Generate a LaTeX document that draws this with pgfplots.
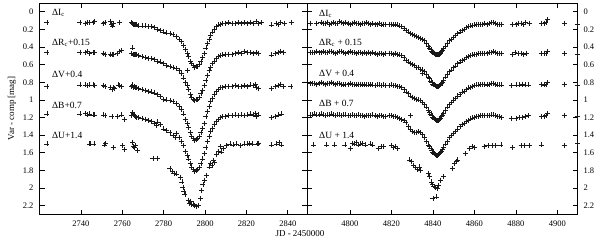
\documentclass[border=0pt]{standalone}
\usepackage{pgfplots}
\pgfplotsset{compat=1.18}
\usepackage{fontspec}
\setmainfont{Liberation Serif}
\tikzset{lbl/.style={anchor=base west, font=\fontsize{9.5}{11}\selectfont, inner sep=0pt}}
\begin{document}
\begin{tikzpicture}
\useasboundingbox (0pt,0pt) rectangle (600pt,244pt);
\pgfplotsset{
  lc/.style={only marks, mark=+, mark size=2.5pt, mark options={line width=0.65pt}, color=black!90},
  panel/.style={
    scale only axis, height=211.6pt, y dir=reverse, ymin=-0.1, ymax=2.3,
    ytick={0,0.2,0.4,0.6,0.8,1,1.2,1.4,1.6,1.8,2,2.2},
    axis line style={line width=0.8pt}, major tick length=5pt,
    tick style={line width=0.6pt, black}, tick align=inside,
    xtick pos=both, ytick pos=both, xticklabel pos=lower,
    tick label style={font=\fontsize{8.5}{10}\selectfont},
    /pgf/number format/assume math mode=true,
    /pgf/number format/1000 sep={},
    scaled x ticks=false, scaled y ticks=false,
    xticklabel style={yshift=-2.5pt},
  },
}
% ---------------- left panel ----------------
\begin{axis}[panel, at={(173.25pt,135.3pt)}, anchor=center, width=267.5pt,
  xmin=2720, xmax=2849.3, xtick={2740,2760,2780,2800,2820,2840},
  yticklabel pos=left, ytick pos=both, yticklabel style={xshift=-2.5pt}]
% Ic
\addplot[lc] coordinates {
(2723.6,0.12) (2739.5,0.12) (2742.2,0.13) (2743.0,0.12) (2744.0,0.12) (2745.8,0.12) (2746.6,0.11)
(2750.8,0.13) (2751.6,0.12) (2754.2,0.11) (2754.8,0.14) (2755.4,0.16) (2755.9,0.13) (2758.7,0.12)
(2764.6,0.12) (2765.0,0.13) (2765.4,0.14) (2765.8,0.15) (2766.4,0.15) (2767.0,0.14) (2768.0,0.16)
(2769.5,0.16) (2771,0.16) (2772.5,0.17) (2774,0.17) (2775.5,0.18) (2777,0.20) (2778.5,0.21)
(2780,0.23) (2781.5,0.24) (2783,0.25) (2784.5,0.26) (2786,0.28) (2787.5,0.31) (2788.5,0.34)
(2789.5,0.38) (2790.5,0.43) (2791.3,0.47) (2791.4,0.67) (2792.0,0.51) (2792.8,0.56) (2793.5,0.59)
(2794.2,0.61) (2795.0,0.63) (2795.8,0.62) (2796.5,0.62) (2797.3,0.60) (2798.0,0.56) (2798.8,0.52)
(2799.6,0.47) (2800.4,0.41) (2801.2,0.36) (2802.0,0.31) (2802.8,0.27) (2803.6,0.23) (2804.5,0.20)
(2805.5,0.17) (2806.5,0.15) (2807.5,0.14) (2808.5,0.13) (2810,0.13) (2811.5,0.12) (2813,0.13)
(2814.5,0.13) (2816,0.12) (2817.5,0.13) (2819,0.12) (2820.5,0.13) (2822,0.12) (2823.5,0.13)
(2825,0.11) (2826,0.13) (2827.3,0.12) (2832,0.15) (2834.5,0.13) (2835.5,0.14) (2836.5,0.12)
(2838.5,0.13) (2841.8,0.12)
};
% Rc + 0.15
\addplot[lc] coordinates {
(2723.6,0.46) (2739.5,0.46) (2742.2,0.46) (2743.0,0.45) (2744.0,0.47) (2745.8,0.46) (2746.6,0.46)
(2750.8,0.47) (2751.6,0.48) (2754.2,0.48) (2755.0,0.49) (2755.6,0.48) (2757.5,0.47) (2758.7,0.45)
(2759.6,0.44) (2764.6,0.47) (2765.0,0.41) (2765.3,0.48) (2765.8,0.49) (2766.4,0.48) (2767.0,0.49)
(2768.0,0.50) (2769.5,0.51) (2771,0.52) (2772.5,0.53) (2774,0.53) (2775.5,0.54) (2777,0.56)
(2778.5,0.57) (2780,0.59) (2781.5,0.61) (2783,0.62) (2784.5,0.63) (2786,0.64) (2787.5,0.67)
(2788.5,0.70) (2789.5,0.75) (2790.5,0.80) (2791.3,0.84) (2792.0,0.88) (2792.8,0.94) (2793.5,0.97)
(2794.2,0.99) (2795.0,1.01) (2795.8,1.00) (2796.5,0.99) (2797.3,0.97) (2798.0,0.93) (2798.8,0.89)
(2799.6,0.84) (2800.4,0.78) (2801.2,0.72) (2802.0,0.67) (2802.8,0.63) (2803.6,0.59) (2804.5,0.56)
(2805.5,0.53) (2806.5,0.51) (2807.5,0.50) (2808.5,0.49) (2810,0.48) (2811.5,0.48) (2813,0.48)
(2814.5,0.47) (2816,0.46) (2817.5,0.47) (2819,0.45) (2820.5,0.46) (2822,0.46) (2823.5,0.47)
(2825,0.46) (2826,0.47) (2832,0.49) (2834,0.47) (2835.5,0.46) (2836.5,0.45) (2838,0.46)
};
% V + 0.4
\addplot[lc] coordinates {
(2723.6,0.85) (2739.5,0.83) (2742.2,0.83) (2743.0,0.84) (2744.0,0.83) (2745.8,0.83) (2746.6,0.84)
(2750.8,0.84) (2751.6,0.85) (2754.2,0.86) (2755.0,0.88) (2755.6,0.86) (2756.3,0.87) (2758.0,0.83)
(2758.7,0.84) (2759.6,0.85) (2764.6,0.85) (2765.0,0.83) (2765.3,0.86) (2765.8,0.85) (2766.4,0.86)
(2767.0,0.86) (2768.0,0.87) (2769.5,0.88) (2771,0.89) (2772.5,0.90) (2774,0.91) (2775.5,0.92)
(2777,0.94) (2778.5,0.96) (2780,0.99) (2781.5,1.00) (2783,1.01) (2784.5,1.02) (2786,1.04)
(2787.5,1.07) (2788.5,1.11) (2789.5,1.16) (2790.5,1.22) (2791.3,1.27) (2792.0,1.31) (2792.8,1.37)
(2793.5,1.41) (2794.2,1.44) (2795.0,1.46) (2795.8,1.45) (2796.5,1.44) (2797.3,1.41) (2798.0,1.37)
(2798.8,1.32) (2799.6,1.27) (2800.4,1.19) (2801.2,1.13) (2802.0,1.07) (2802.8,1.02) (2803.6,0.98)
(2804.5,0.94) (2805.5,0.90) (2806.5,0.88) (2807.5,0.86) (2808.5,0.86) (2810,0.85) (2811.5,0.85)
(2813,0.85) (2814.5,0.84) (2816,0.85) (2817.5,0.85) (2819,0.84) (2820.5,0.85) (2822,0.83)
(2823.5,0.84) (2824.5,0.82) (2825,0.86) (2826,0.87) (2832,0.87) (2834,0.85) (2835.5,0.84)
(2836.5,0.82) (2838,0.85) (2841.5,0.85)
};
% B + 0.7
\addplot[lc] coordinates {
(2723.6,1.16) (2739.5,1.16) (2742.2,1.15) (2743.0,1.17) (2744.0,1.16) (2745.8,1.17) (2746.6,1.17)
(2750.8,1.17) (2751.6,1.18) (2755.0,1.19) (2757.5,1.19) (2759.6,1.17) (2761.0,1.22) (2764.6,1.18)
(2765.0,1.14) (2765.3,1.17) (2765.8,1.18) (2766.4,1.19) (2767.0,1.20) (2768.0,1.20) (2769.5,1.21)
(2771,1.22) (2772.5,1.23) (2774,1.24) (2775.5,1.27) (2776.5,1.29) (2777,1.25) (2778.5,1.28)
(2780,1.33) (2781.5,1.35) (2783,1.37) (2784.5,1.40) (2785.5,1.43) (2786,1.38) (2787.5,1.43)
(2788.5,1.47) (2789.5,1.52) (2790.5,1.58) (2791.3,1.63) (2792.0,1.67) (2792.8,1.72) (2793.5,1.76)
(2794.2,1.79) (2795.0,1.81) (2795.8,1.80) (2796.5,1.79) (2797.3,1.77) (2798.0,1.72) (2798.8,1.67)
(2799.6,1.61) (2800.4,1.54) (2801.2,1.47) (2802.0,1.41) (2802.8,1.36) (2803.6,1.32) (2804.5,1.28)
(2805.5,1.24) (2806.5,1.22) (2807.5,1.20) (2808.5,1.19) (2810,1.19) (2811.5,1.18) (2813,1.18)
(2814.5,1.17) (2816,1.18) (2817.5,1.17) (2819,1.18) (2820.5,1.17) (2822,1.16) (2823.5,1.17)
(2824.5,1.15) (2825,1.19) (2826,1.17) (2832,1.20) (2834,1.19) (2835.5,1.17) (2837,1.16)
};
% U + 1.4
\addplot[lc] coordinates {
(2723.6,1.50) (2744.0,1.50) (2744.8,1.50) (2746.3,1.50) (2751.2,1.51) (2751.8,1.49) (2755.6,1.54)
(2760.2,1.52) (2761.2,1.56) (2765.0,1.48) (2765.4,1.53) (2765.8,1.54) (2766.3,1.52) (2767.5,1.57)
(2774.8,1.66) (2776.8,1.66) (2783.0,1.78) (2784.3,1.81) (2785.0,1.83) (2786.2,1.84) (2788.2,1.88)
(2788.8,1.93) (2789.3,1.99) (2789.8,2.04) (2790.3,2.07) (2792.0,2.14) (2792.5,2.17) (2793.0,2.15)
(2793.5,2.19) (2794.2,2.18) (2794.8,2.20) (2795.6,2.21) (2796.8,2.20) (2797.6,2.12) (2798.4,2.03)
(2799.0,1.96) (2799.7,1.91) (2800.8,1.86) (2802.0,1.76) (2802.6,1.72) (2803.3,1.74) (2804.0,1.69)
(2804.7,1.71) (2805.5,1.62) (2806.5,1.58) (2807.3,1.53) (2808.0,1.59) (2809.0,1.55) (2810.5,1.52)
(2812.0,1.50) (2813.5,1.51) (2815.0,1.50) (2817.0,1.52) (2819.0,1.50) (2820.5,1.50) (2821.5,1.49)
(2823.0,1.50) (2825.5,1.50) (2826.0,1.49) (2832.0,1.51) (2834.5,1.50) (2836.0,1.48) (2836.8,1.51)
};
\node[lbl] at (axis cs:2726,0.04) {ΔI\textsubscript{c}};
\node[lbl] at (axis cs:2726,0.38) {ΔR\textsubscript{c}+0.15};
\node[lbl] at (axis cs:2726,0.745) {ΔV+0.4};
\node[lbl] at (axis cs:2726,1.095) {ΔB+0.7};
\node[lbl] at (axis cs:2726,1.435) {ΔU+1.4};
\end{axis}
% ---------------- right panel ----------------
\begin{axis}[panel, at={(442.25pt,135.3pt)}, anchor=center, width=270.5pt,
  xmin=4779.3, xmax=4909.7, xtick={4800,4820,4840,4860,4880,4900},
  yticklabel pos=right, ytick pos=both, yticklabel style={xshift=2.5pt}]
% Ic
\addplot[lc] coordinates {
(4781,0.13) (4783.8,0.13) (4786,0.12) (4787,0.13) (4788,0.13) (4789,0.12) (4790,0.14) (4791,0.13)
(4792,0.12) (4793,0.13) (4794,0.13) (4795,0.11) (4796,0.12) (4797,0.13) (4798,0.12) (4799,0.13)
(4800,0.14) (4801,0.13) (4802,0.12) (4803,0.13) (4804,0.13) (4805,0.14) (4806,0.13) (4807,0.13)
(4808,0.12) (4809,0.13) (4810,0.14) (4811,0.13) (4812,0.14) (4813,0.14) (4814,0.13) (4815,0.15)
(4816,0.14) (4817,0.14) (4819,0.14) (4820,0.14) (4821,0.15) (4822,0.14) (4823,0.15) (4824,0.16)
(4825,0.17) (4826,0.19) (4827,0.21) (4828,0.23) (4829,0.25) (4830,0.26) (4831,0.27) (4832,0.28)
(4833,0.29) (4834,0.30) (4835,0.31) (4836,0.33) (4837,0.36) (4838,0.39) (4838.5,0.41) (4839,0.43)
(4839.5,0.45) (4840,0.46) (4840.5,0.47) (4841,0.48) (4841.5,0.49) (4842,0.49) (4842.5,0.49)
(4843,0.48) (4843.5,0.47) (4844,0.45) (4844.5,0.44) (4845,0.42) (4846,0.39) (4847,0.36) (4848,0.33)
(4849,0.31) (4850,0.29) (4851,0.27) (4852,0.25) (4853,0.23) (4854,0.21) (4855,0.20) (4856,0.18)
(4857,0.17) (4858,0.16) (4859,0.155) (4860,0.15) (4861,0.145) (4862,0.14) (4863,0.14) (4864,0.14)
(4865,0.13) (4866,0.14) (4867,0.13) (4868,0.12) (4869,0.12) (4870,0.13) (4871,0.14) (4872,0.14)
(4873,0.14) (4878.5,0.14) (4880,0.14) (4881,0.13) (4882.5,0.13) (4883.5,0.14) (4884.5,0.12)
(4886.5,0.13) (4892.5,0.13) (4893.5,0.13) (4894.5,0.12) (4895.2,0.09) (4903.5,0.13) (4909.5,0.14)
};
% Rc + 0.15
\addplot[lc] coordinates {
(4781,0.46) (4782,0.46) (4783,0.46) (4784,0.45) (4785,0.46) (4786,0.46) (4787,0.45) (4788,0.46)
(4789,0.46) (4790,0.45) (4791,0.45) (4792,0.46) (4793,0.47) (4794,0.46) (4795,0.45) (4796,0.45)
(4797,0.46) (4798,0.47) (4799,0.46) (4800,0.45) (4801,0.46) (4802,0.46) (4803,0.47) (4804,0.46)
(4805,0.46) (4806,0.47) (4807,0.46) (4808,0.47) (4809,0.46) (4810,0.47) (4811,0.46) (4812,0.47)
(4813,0.48) (4814,0.47) (4815,0.47) (4816,0.48) (4817,0.47) (4819,0.47) (4820,0.47) (4821,0.48)
(4822,0.47) (4823,0.48) (4824,0.49) (4825,0.50) (4826,0.52) (4827,0.55) (4828,0.57) (4829,0.59)
(4830,0.60) (4831,0.61) (4832,0.63) (4833,0.635) (4834,0.65) (4834.8,0.70) (4835,0.66) (4836,0.68)
(4837,0.71) (4838,0.74) (4838.5,0.76) (4839,0.785) (4839.5,0.80) (4840,0.82) (4840.5,0.83)
(4841,0.84) (4841.5,0.85) (4842,0.85) (4842.5,0.85) (4843,0.84) (4843.5,0.83) (4844,0.81)
(4844.5,0.80) (4845,0.78) (4846,0.74) (4847,0.71) (4848,0.68) (4849,0.66) (4850,0.635) (4851,0.615)
(4852,0.59) (4853,0.57) (4854,0.55) (4855,0.54) (4856,0.52) (4857,0.51) (4858,0.50) (4859,0.49)
(4860,0.48) (4861,0.48) (4862,0.47) (4863,0.47) (4864,0.47) (4865,0.47) (4866,0.47) (4867,0.46)
(4868,0.46) (4869,0.45) (4870,0.46) (4871,0.47) (4872,0.47) (4873,0.47) (4878.5,0.48) (4879.5,0.46)
(4881,0.47) (4882.5,0.47) (4883.5,0.48) (4885,0.47) (4892.5,0.47) (4893.5,0.47) (4894.5,0.47)
(4895.2,0.45) (4903.5,0.47) (4909.5,0.48)
};
% V + 0.4
\addplot[lc] coordinates {
(4781,0.81) (4782,0.81) (4783,0.81) (4784,0.82) (4785,0.81) (4786,0.80) (4787,0.81) (4788,0.82)
(4789,0.81) (4790,0.81) (4791,0.80) (4792,0.81) (4793,0.82) (4794,0.81) (4795,0.81) (4796,0.82)
(4797,0.83) (4798,0.82) (4799,0.82) (4800,0.81) (4801,0.82) (4802,0.82) (4803,0.83) (4804,0.82)
(4805,0.82) (4806,0.83) (4807,0.82) (4808,0.83) (4809,0.83) (4810,0.82) (4811,0.83) (4812,0.84)
(4813,0.83) (4814,0.83) (4815,0.84) (4816,0.83) (4817,0.84) (4819,0.84) (4820,0.83) (4821,0.84)
(4822,0.84) (4823,0.85) (4824,0.85) (4825,0.86) (4826,0.88) (4827,0.91) (4828,0.93) (4829,0.955)
(4830,0.97) (4831,0.98) (4832,0.99) (4833,1.00) (4834,1.01) (4835,1.03) (4836,1.05) (4837,1.08)
(4838,1.12) (4838.5,1.14) (4839,1.16) (4839.5,1.18) (4840,1.20) (4840.5,1.21) (4841,1.22)
(4841.5,1.23) (4842,1.23) (4842.5,1.23) (4843,1.22) (4843.5,1.21) (4844,1.19) (4844.5,1.17)
(4845,1.15) (4846,1.12) (4847,1.08) (4848,1.05) (4849,1.025) (4850,1.00) (4851,0.98) (4852,0.955)
(4853,0.935) (4854,0.91) (4855,0.90) (4856,0.88) (4857,0.865) (4858,0.855) (4859,0.845) (4860,0.835)
(4861,0.83) (4862,0.83) (4863,0.82) (4864,0.82) (4865,0.82) (4866,0.83) (4867,0.82) (4868,0.81)
(4869,0.81) (4870,0.82) (4871,0.83) (4872,0.83) (4873,0.83) (4878,0.84) (4880,0.83) (4881.5,0.83)
(4883,0.82) (4884.5,0.83) (4886,0.83) (4892.5,0.82) (4893.5,0.83) (4894.5,0.82) (4895.2,0.80)
(4903.5,0.82) (4909.5,0.83)
};
% B + 0.7
\addplot[lc] coordinates {
(4781,1.17) (4782,1.17) (4783,1.16) (4784,1.17) (4785,1.17) (4786,1.16) (4787,1.17) (4788,1.18)
(4789,1.17) (4790,1.17) (4791,1.16) (4792,1.17) (4793,1.18) (4794,1.17) (4795,1.17) (4796,1.18)
(4797,1.17) (4798,1.17) (4799,1.18) (4800,1.18) (4801,1.17) (4802,1.18) (4803,1.18) (4804,1.17)
(4805,1.18) (4806,1.18) (4807,1.19) (4808,1.18) (4809,1.18) (4810,1.18) (4811,1.17) (4812,1.18)
(4813,1.19) (4814,1.18) (4815,1.18) (4816,1.19) (4817,1.19) (4819,1.18) (4820,1.18) (4821,1.19)
(4822,1.19) (4823,1.20) (4824,1.21) (4825,1.22) (4826,1.23) (4827,1.26) (4828,1.30) (4829,1.33)
(4829.2,1.18) (4830,1.36) (4831,1.37) (4832,1.365) (4833,1.36) (4834,1.37) (4835,1.39) (4836,1.43)
(4837,1.47) (4838,1.51) (4838.5,1.53) (4839,1.55) (4839.5,1.57) (4840,1.59) (4840.5,1.61)
(4841,1.62) (4841.5,1.63) (4842,1.63) (4842.5,1.62) (4843,1.61) (4843.5,1.60) (4844,1.58)
(4844.5,1.56) (4845,1.54) (4846,1.50) (4847,1.47) (4848,1.43) (4849,1.40) (4850,1.38) (4851,1.355)
(4852,1.33) (4853,1.30) (4854,1.28) (4855,1.265) (4856,1.245) (4857,1.23) (4858,1.215) (4859,1.205)
(4860,1.195) (4861,1.19) (4862,1.185) (4863,1.18) (4864,1.18) (4865,1.18) (4866,1.18) (4867,1.18)
(4868,1.17) (4869,1.17) (4870,1.18) (4871,1.19) (4872,1.19) (4873,1.20) (4878,1.21) (4880,1.21)
(4881.5,1.20) (4883,1.20) (4884.5,1.19) (4886,1.18) (4892.5,1.19) (4893.5,1.19) (4894.5,1.18)
(4895.2,1.15) (4903.5,1.18) (4909.5,1.19)
};
% U + 1.4
\addplot[lc] coordinates {
(4782.5,1.51) (4788.7,1.51) (4792.7,1.51) (4797.6,1.51) (4800.2,1.55) (4801,1.49) (4802,1.50)
(4803,1.48) (4804,1.51) (4805,1.50) (4806,1.49) (4807.5,1.51) (4810,1.50) (4811,1.51) (4813.6,1.55)
(4815,1.53) (4816,1.53) (4820,1.52) (4821,1.54) (4822,1.53) (4823,1.55) (4828.5,1.68) (4829.5,1.70)
(4830.5,1.74) (4831.5,1.77) (4832.5,1.79) (4833.5,1.76) (4834,1.80) (4838,1.83) (4838.5,1.87)
(4839.2,1.93) (4839.8,1.96) (4840.5,1.98) (4841.2,1.99) (4842,2.00) (4842.5,1.97) (4840,2.12)
(4841.5,2.10) (4843.8,1.91) (4845,1.87) (4849.4,1.78) (4850.5,1.72) (4851.2,1.70) (4851.8,1.68)
(4855.8,1.61) (4857.5,1.55) (4859,1.53) (4860,1.54) (4864.7,1.53) (4866.5,1.52) (4868.5,1.52)
(4870,1.52) (4872.8,1.51) (4878.5,1.54) (4882.5,1.52) (4884,1.52) (4886.4,1.52) (4892.2,1.51)
(4903.5,1.52) (4909.7,1.49)
};
\node[lbl] at (axis cs:4785.1,0.05) {ΔI\textsubscript{c}};
\node[lbl] at (axis cs:4785.1,0.38) {ΔR\textsubscript{c} + 0.15};
\node[lbl] at (axis cs:4785.1,0.737) {ΔV + 0.4};
\node[lbl] at (axis cs:4785.1,1.077) {ΔB + 0.7};
\node[lbl] at (axis cs:4785.1,1.435) {ΔU + 1.4};
\end{axis}
\node[rotate=90, font=\fontsize{9}{11}\selectfont] at (12pt,135.4pt) {Var - comp [mag]};
\node[font=\fontsize{9}{11}\selectfont] at (300pt,10pt) {JD - 2450000};
\end{tikzpicture}
\end{document}
